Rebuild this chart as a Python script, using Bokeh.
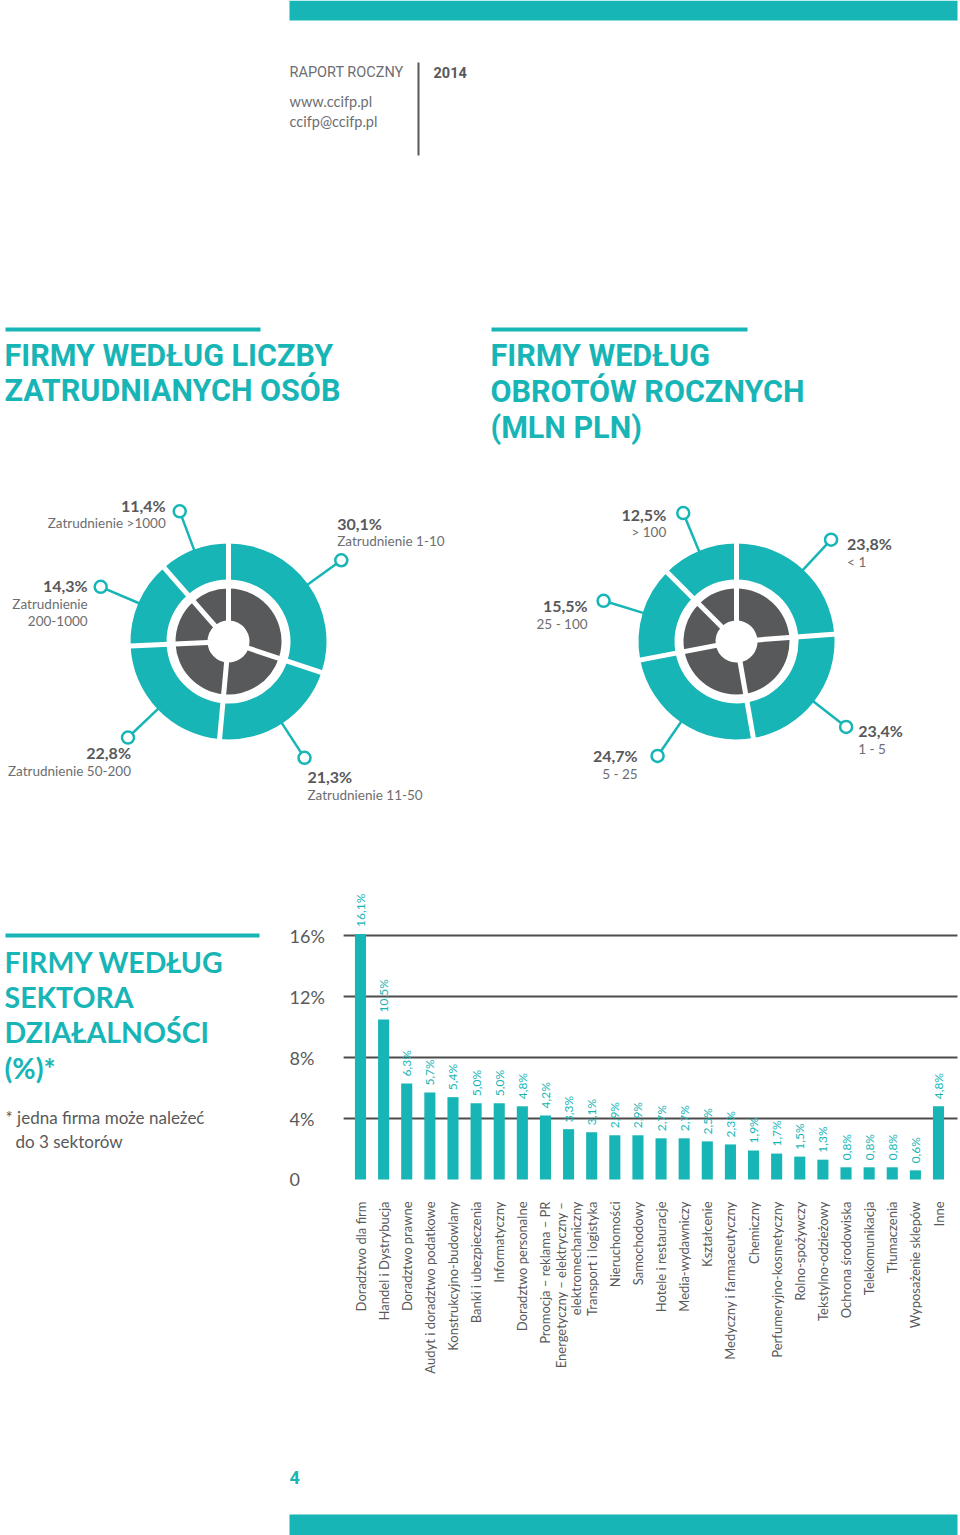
import math
from bokeh.plotting import figure
from bokeh.models import Range1d
from bokeh.core.properties import value
from bokeh.embed import file_html
from bokeh.resources import INLINE

# ---------------- data ----------------
emp_values = [30.1, 21.3, 22.8, 14.3, 11.4]
emp_labels = ["Zatrudnienie 1-10", "Zatrudnienie 11-50", "Zatrudnienie 50-200",
              "Zatrudnienie\n200-1000", "Zatrudnienie >1000"]

rev_values = [23.8, 23.4, 24.7, 15.5, 12.5]
rev_labels = ["< 1", "1 - 5", "5 - 25", "25 - 100", "> 100"]

sectors = [
    "Doradztwo dla firm", "Handel i Dystrybucja", "Doradztwo prawne",
    "Audyt i doradztwo podatkowe", "Konstrukcyjno-budowlany", "Banki i ubezpieczenia",
    "Informatyczny", "Doradztwo personalne", "Promocja – reklama – PR",
    "Energetyczny – elektryczny –\nelektromechaniczny", "Transport i logistyka",
    "Nieruchomości", "Samochodowy", "Hotele i restauracje", "Media-wydawniczy",
    "Kształcenie", "Medyczny i farmaceutyczny", "Chemiczny", "Perfumeryjno-kosmetyczny",
    "Rolno-spożywczy", "Tekstylno-odzieżowy", "Ochrona środowiska", "Telekomunikacja",
    "Tłumaczenia", "Wyposażenie sklepów", "Inne",
]
sector_values = [16.1, 10.5, 6.3, 5.7, 5.4, 5.0, 5.0, 4.8, 4.2, 3.3, 3.1, 2.9, 2.9,
                 2.7, 2.7, 2.5, 2.3, 1.9, 1.7, 1.5, 1.3, 0.8, 0.8, 0.8, 0.6, 4.8]
y_ticks = [0, 4, 8, 12, 16]
y_tick_labels = ["0", "4%", "8%", "12%", "16%"]

# ---------------- style ----------------
TEAL = "#17b5b6"
GRAY = "#58595b"
TXT = "#6d6e71"
BODY = "Lato"
COND = "Roboto"

W, H = 960, 1535
p = figure(width=W, height=H, x_range=Range1d(0, W), y_range=Range1d(H, 0),
           x_axis_type=None, y_axis_type=None, output_backend="svg",
           toolbar_location=None, min_border=0, outline_line_color=None)
p.background_fill_color = "white"
p.border_fill_color = "white"


def txt(x, y, s, size, color, font=BODY, style="normal", align="left",
        baseline="middle", **kw):
    p.text(x=[x], y=[y], text=[s], text_font=value(font),
           text_font_size=f"{size}px", text_color=color, text_font_style=style,
           text_align=align, text_baseline=baseline, **kw)


def fmt(v):
    return f"{v:.1f}".replace(".", ",") + "%"


# ---------------- header ----------------
p.quad(left=[289], right=[957], top=[0], bottom=[20], color=TEAL, line_color=None)
txt(289, 72, "RAPORT ROCZNY", 14.5, TXT, COND)
p.segment(x0=[418], y0=[62], x1=[418], y1=[155], line_color=GRAY, line_width=2)
txt(433, 72, "2014", 14.5, GRAY, COND, "bold")
txt(289, 101, "www.ccifp.pl", 14.5, TXT, BODY)
txt(289, 121, "ccifp@ccifp.pl", 14.5, TXT, BODY)

# ---------------- titles ----------------
TS = 30.5
p.quad(left=[5], right=[260], top=[327], bottom=[331], color=TEAL, line_color=None)
txt(4, 355, "FIRMY WEDŁUG LICZBY", TS, TEAL, COND, "bold")
txt(4, 390, "ZATRUDNIANYCH OSÓB", TS, TEAL, COND, "bold")
p.quad(left=[491], right=[747], top=[327], bottom=[331], color=TEAL, line_color=None)
txt(490, 355, "FIRMY WEDŁUG", TS, TEAL, COND, "bold")
txt(490, 391, "OBROTÓW ROCZNYCH", TS, TEAL, COND, "bold")
txt(490, 427, "(MLN PLN)", TS, TEAL, COND, "bold")


# ---------------- donuts ----------------
def donut(cx, cy, vals, labels, layout):
    total = sum(vals)
    a = 90.0
    starts, ends, mids, bounds = [], [], [], []
    for v in vals:
        span = v / total * 360.0
        starts.append(a - span)
        ends.append(a)
        mids.append(a - span / 2)
        bounds.append(a)
        a -= span
    n = len(vals)
    p.annular_wedge(x=[cx] * n, y=[cy] * n, inner_radius=62, outer_radius=98,
                    inner_radius_units="screen", outer_radius_units="screen",
                    start_angle=starts, end_angle=ends, start_angle_units="deg",
                    end_angle_units="deg", direction="anticlock",
                    fill_color=TEAL, line_color=None)
    p.annular_wedge(x=[cx] * n, y=[cy] * n, inner_radius=21, outer_radius=53,
                    inner_radius_units="screen", outer_radius_units="screen",
                    start_angle=starts, end_angle=ends, start_angle_units="deg",
                    end_angle_units="deg", direction="anticlock",
                    fill_color=GRAY, line_color=None)
    # white separators
    x0 = [cx + 15 * math.cos(math.radians(b)) for b in bounds]
    y0 = [cy - 15 * math.sin(math.radians(b)) for b in bounds]
    x1 = [cx + 104 * math.cos(math.radians(b)) for b in bounds]
    y1 = [cy - 104 * math.sin(math.radians(b)) for b in bounds]
    p.segment(x0=x0, y0=y0, x1=x1, y1=y1, line_color="white", line_width=5)
    # leaders
    lx0 = [cx + 96 * math.cos(math.radians(m)) for m in mids]
    ly0 = [cy - 96 * math.sin(math.radians(m)) for m in mids]
    lx1 = [cx + 139 * math.cos(math.radians(m)) for m in mids]
    ly1 = [cy - 139 * math.sin(math.radians(m)) for m in mids]
    p.segment(x0=lx0, y0=ly0, x1=lx1, y1=ly1, line_color=TEAL, line_width=2.5)
    p.scatter(x=lx1, y=ly1, marker="circle", size=12, line_color=TEAL,
              line_width=2.5, fill_color="white")
    for v, lab, (dx, dy, al), ex, ey in zip(vals, labels, layout, lx1, ly1):
        tx = ex + dx
        ty = ey + dy
        txt(tx, ty, fmt(v), 16, GRAY, BODY, "bold", align=al)
        for k, line in enumerate(lab.split("\n")):
            txt(tx, ty + 18 + 17 * k, line, 13.5, TXT, BODY, align=al)


emp_layout = [(-4, -37, "left"), (3, 19, "left"), (3, 15, "right"),
              (-13, -1, "right"), (-14, -6, "right")]
rev_layout = [(16, 4, "left"), (12, 4, "left"), (-20, 0, "right"),
              (-16, 5, "right"), (-17, 1, "right")]
donut(228, 641, emp_values, emp_labels, emp_layout)
donut(736, 641, rev_values, rev_labels, rev_layout)

# ---------------- sector bar chart ----------------
p.quad(left=[5], right=[259], top=[933], bottom=[937], color=TEAL, line_color=None)
for i, s in enumerate(["FIRMY WEDŁUG", "SEKTORA", "DZIAŁALNOŚCI", "(%)*"]):
    txt(4, [961, 996, 1031, 1067][i], s, 28.5, TEAL, BODY, "bold")
txt(5, 1117, "* jedna firma może należeć", 17, GRAY, BODY)
txt(15, 1141, "do 3 sektorów", 17, GRAY, BODY)

# bar coordinate system (index -> x, percent -> y)
X0, DX = 360.0, 23.12
Y0, DY = 1179.0, 15.25
p.extra_x_ranges = {"bars": Range1d(-X0 / DX, (W - X0) / DX)}
p.extra_y_ranges = {"bars": Range1d(-(H - Y0) / DY, Y0 / DY)}

idx = list(range(len(sectors)))
grid_vals = [t for t in y_ticks if t > 0]
p.segment(x0=[-0.73] * len(grid_vals), x1=[25.82] * len(grid_vals),
          y0=grid_vals, y1=grid_vals, line_color="#4d4d4f", line_width=2,
          x_range_name="bars", y_range_name="bars")
p.vbar(x=idx, top=sector_values, bottom=0, width=0.48, color=TEAL, line_color=None,
       x_range_name="bars", y_range_name="bars")
p.text(x=[289] * len(y_ticks), y=y_ticks, text=y_tick_labels, text_font=value(BODY),
       text_font_size="18px", text_color=GRAY, text_align="left",
       text_baseline="middle", y_range_name="bars")
p.text(x=idx, y=sector_values, text=[fmt(v) for v in sector_values], angle=90,
       angle_units="deg", y_offset=-7, text_font=value(BODY), text_font_size="12px",
       text_color=TEAL, text_align="left", text_baseline="middle",
       x_range_name="bars", y_range_name="bars")
p.text(x=idx, y=[0] * len(idx), text=sectors, angle=90, angle_units="deg",
       y_offset=22, text_font=value(BODY), text_font_size="13px", text_color=GRAY,
       text_align="right", text_baseline="middle", text_line_height=0.95,
       x_range_name="bars", y_range_name="bars")

# ---------------- footer ----------------
txt(289, 1477, "4", 18, TEAL, COND, "bold")
p.quad(left=[289], right=[957], top=[1514], bottom=[1535], color=TEAL, line_color=None)

open("out.html", "w").write(file_html(p, INLINE))
